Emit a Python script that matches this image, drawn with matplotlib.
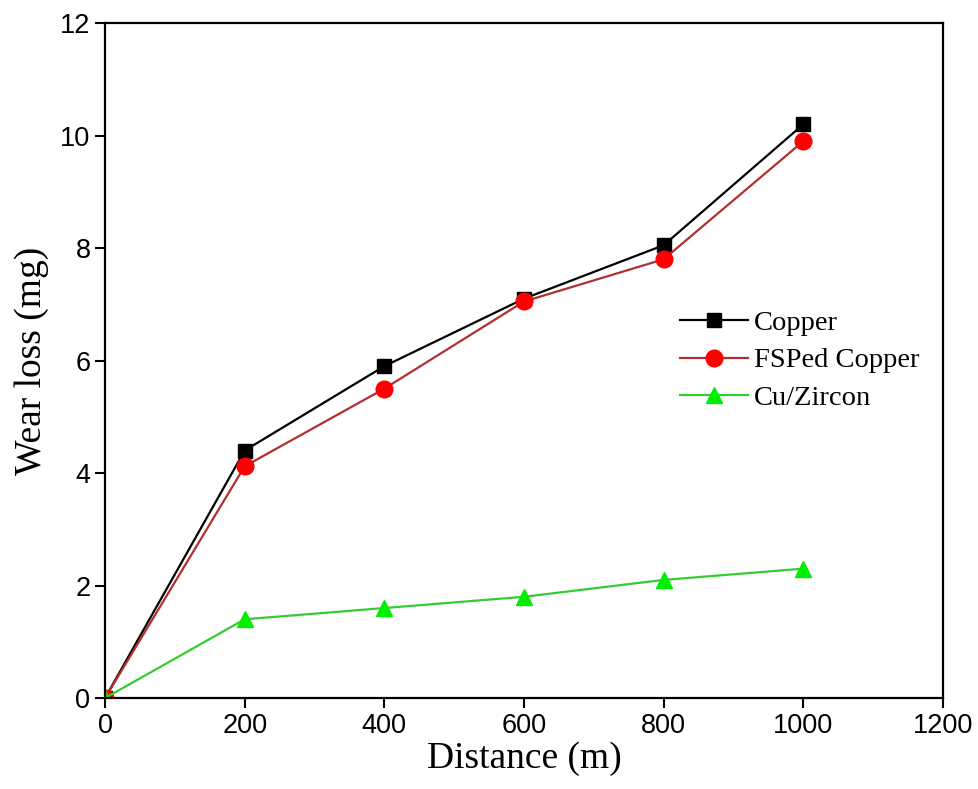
import numpy as np
from matplotlib import pyplot as plt

# data
distance = [0, 200, 400, 600, 800, 1000]
copper = [0, 4.4, 5.9, 7.1, 8.05, 10.2]
fsped_copper = [0, 4.12, 5.5, 7.05, 7.8, 9.9]
cu_zircon = [0, 1.4, 1.6, 1.8, 2.1, 2.3]

x_ticks = [0, 200, 400, 600, 800, 1000, 1200]
y_ticks = [0, 2, 4, 6, 8, 10, 12]

fig = plt.figure(figsize=(9.79, 7.89), dpi=100)
ax = fig.add_axes([0.1073, 0.1153, 0.9632 - 0.1073, 0.9708 - 0.1153])

ax.plot(distance, copper, color="black", lw=1.6, marker="s", ms=10,
        mfc="black", mec="black", label="Copper")
ax.plot(distance, fsped_copper, color="#b03030", lw=1.6, marker="o", ms=12,
        mfc="#ff0000", mec="#ff0000", label="FSPed Copper")
ax.plot(distance, cu_zircon, color="#33cc33", lw=1.6, marker="^", ms=12,
        mfc="#00ee00", mec="#00ee00", label="Cu/Zircon")

ax.set_xlim(0, 1200)
ax.set_ylim(0, 12)
ax.set_xticks(x_ticks)
ax.set_yticks(y_ticks)
ax.tick_params(direction="out", length=7, width=1.5, labelsize=19.5,
               top=False, right=False)
for lab in ax.get_xticklabels() + ax.get_yticklabels():
    lab.set_family("Liberation Sans")
for s in ax.spines.values():
    s.set_linewidth(1.6)

ax.set_xlabel("Distance (m)", family="Liberation Serif", fontsize=27, labelpad=2)
ax.set_ylabel("Wear loss (mg)", family="Liberation Serif", fontsize=27, labelpad=8)

ax.legend(loc="center left", bbox_to_anchor=(0.686, 0.5), frameon=False,
          borderpad=0, borderaxespad=0, handlelength=2.4, handletextpad=0.2,
          labelspacing=0.42, prop={"family": "Liberation Serif", "size": 20.5})

fig.savefig("out.png", dpi=100)
